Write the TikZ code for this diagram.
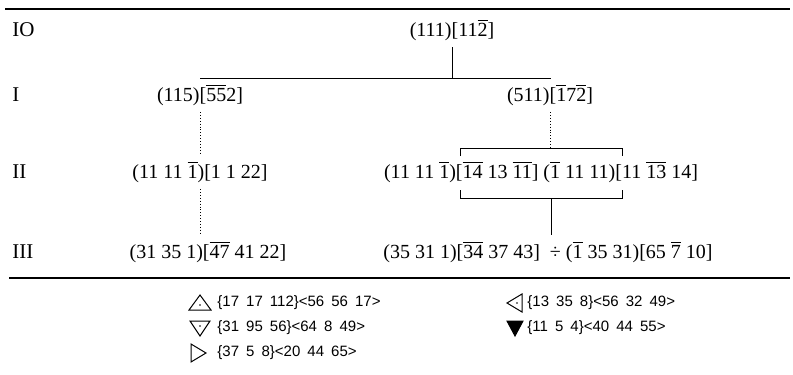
\documentclass[tikz,border=0pt]{standalone}
\usepackage{fontspec}
\setmainfont{Liberation Serif}
\newfontfamily\legendfont[WordSpace=1.7]{Liberation Sans}
\usepackage{tikz}
\usetikzlibrary{positioning}
\newcommand{\nb}[1]{\ensuremath{\overline{\hbox{#1}}}}

\begin{document}
\begin{tikzpicture}[
  x=0.5pt, y=-0.5pt,
  font=\fontsize{10}{12}\selectfont,
  lvl/.style={anchor=west, inner sep=0pt, font=\fontsize{10.5}{12}\selectfont},
  ori/.style={inner sep=3pt},
  leg/.style={anchor=west, inner sep=0pt, font={\legendfont\fontsize{7.5}{9}\selectfont}},
  rule/.style={line width=0.9pt},
  link/.style={line width=0.45pt},
  weak/.style={line width=0.45pt, densely dotted},
  tri up/.pic={\draw[line width=0.5pt] (-11,7) -- (11,7) -- (0,-8) -- cycle; \fill (0,2) circle (0.9);},
  tri down/.pic={\draw[line width=0.5pt] (-10,-7) -- (10,-7) -- (0,8) -- cycle; \fill (0,-2) circle (0.9);},
  tri right/.pic={\draw[line width=0.5pt] (-7,-9) -- (-7,9) -- (8,0) -- cycle;},
  tri left/.pic={\draw[line width=0.5pt] (7,-9) -- (7,9) -- (-8,0) -- cycle; \fill (2,0) circle (0.9);},
  tri fill/.pic={\filldraw[line width=0.5pt] (-8,-7) -- (8,-7) -- (0,8) -- cycle;}
]
  \useasboundingbox (0,0) rectangle (793,375);
  % table rules
  \draw[rule] (5,9) -- (790,9);
  \draw[rule] (9,278) -- (790,278);
  % level labels
  \node[lvl] (lIO)  at (12,30)  {IO};
  \node[lvl] (lI)   at (12,95)  {I};
  \node[lvl] (lII)  at (12,172) {II};
  \node[lvl] (lIII) at (12,252) {III};
  % orientations
  \node[ori] (root) at (452,30)  {(111)[11\nb{2}]};
  \node[ori] (a1)   at (200,95)  {(115)[\nb{5}\nb{5}2]};
  \node[ori] (b1)   at (550,95)  {(511)[\nb{1}7\nb{2}]};
  \node[ori] (a2)   at (200,172) {(11 11 \nb{1})[1 1 22]};
  \node[ori] (b2)   at (541,172) {(11 11 \nb{1})[\nb{14} 13 \nb{11}] (\nb{1} 11 11)[11 \nb{13} 14]};
  \node[ori] (a3)   at (208,252) {(31 35 1)[\nb{47} 41 22]};
  \node[ori] (b3)   at (548,252) {(35 31 1)[\nb{34} 37 43] \ ÷ (\nb{1} 35 31)[65 \nb{7} 10]};
  \coordinate (jl) at (200,78);
  \coordinate (jr) at (550,78);
  \coordinate (bt) at (551,148);
  \coordinate (bb) at (551,198);
  % fork below the root
  \draw[link] (root.south) -- (root.south |- jl);
  \draw[link] (jl) -- (jr);
  \draw[link] (jl) -- (a1);
  \draw[link] (jr) -- (b1);
  % left branch
  \draw[weak] (a1) -- (a2);
  \draw[weak] (a2.south) -- (a2.south |- a3.north);
  % right branch, the bracketed pair
  \draw[link] (460,156) |- (622,148) -- (622,156);
  \draw[link] (460,190) |- (622,198) -- (622,190);
  \draw[weak] (b1) -- (b1 |- bt);
  \draw[link] (bb) -- (bb |- b3.north);
  % legend
  \pic at (200,303) {tri up};
  \node[leg] (f1) at (217,303) {\{17 17 112\}<56 56 17>};
  \pic at (200,328) {tri down};
  \node[leg] (f2) at (217,328) {\{31 95 56\}<64 8 49>};
  \pic at (198,353) {tri right};
  \node[leg] (f3) at (217,353) {\{37 5 8\}<20 44 65>};
  \pic at (515,303) {tri left};
  \node[leg] (f4) at (527,303) {\{13 35 8\}<56 32 49>};
  \pic at (515,328) {tri fill};
  \node[leg] (f5) at (527,328) {\{11 5 4\}<40 44 55>};
\end{tikzpicture}
\end{document}
